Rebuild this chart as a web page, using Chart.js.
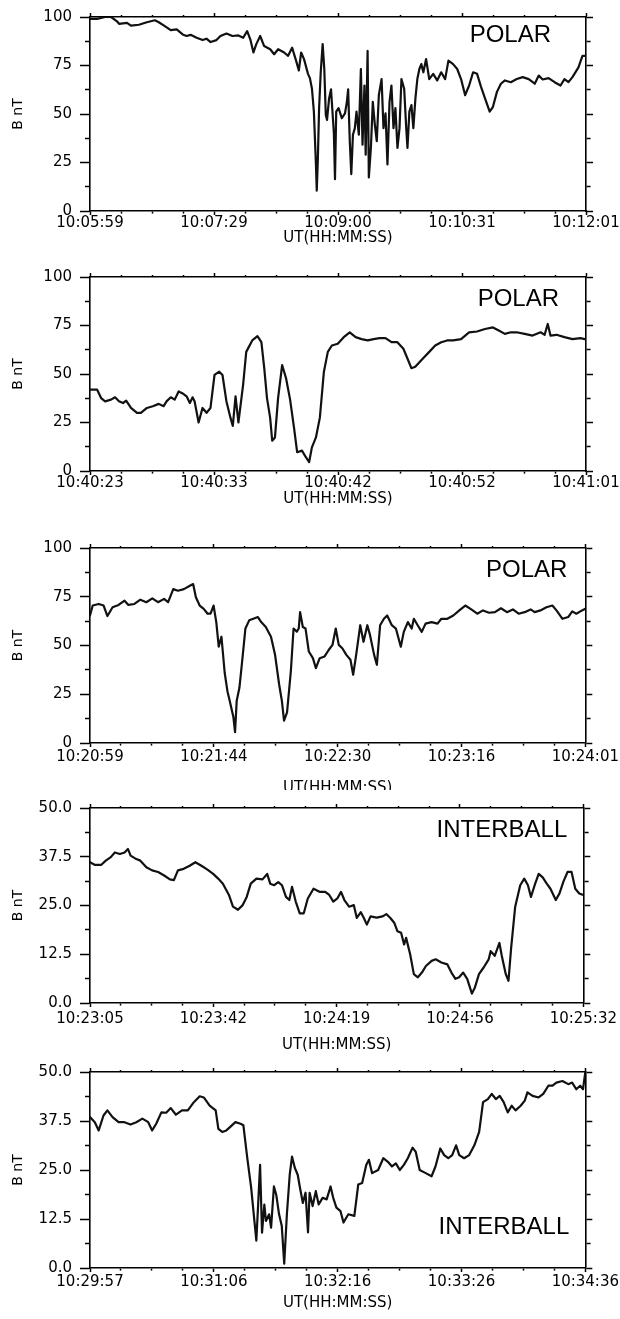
<!DOCTYPE html>
<html>
<head>
<meta charset="utf-8">
<script src="https://cdn.jsdelivr.net/npm/chart.js@4.4.1/dist/chart.umd.min.js"></script>
<style>
  html, body { margin: 0; padding: 0; background: #fff; }
  body { width: 620px; height: 1319px; position: relative; overflow: hidden; }
  .p { position: absolute; left: 0; width: 620px; }
  .p canvas { display: block; }
</style>
</head>
<body>
<div class="p" id="w1" style="top:0px;height:262px"><canvas id="c1"></canvas></div>
<div class="p" id="w2" style="top:260px;height:262px"><canvas id="c2"></canvas></div>
<div class="p" id="w3" style="top:531px;height:259px"><canvas id="c3"></canvas></div>
<div class="p" id="w4" style="top:791px;height:264px"><canvas id="c4"></canvas></div>
<div class="p" id="w5" style="top:1055px;height:264px"><canvas id="c5"></canvas></div>
<script>
// ---------------- DATA (seconds after the first tick, field magnitude in nT) ----------------
const P1_XLABELS = ['10:05:59', '10:07:29', '10:09:00', '10:10:31', '10:12:01'];
const P1_SPAN = 362;
const P1_TIME = [0,5.2,11,15.4,19.7,21.2,27,29.9,35.7,41.5,
  47.3,50.2,54.6,58.9,63.3,67.6,70.5,73.4,77.8,82.2,
  85,88,92.3,95.2,99.6,103.9,108.3,111.8,114.7,117,
  119.3,121.3,124.2,127.1,131.5,134.4,137.3,141.7,144.6,147.5,
  150.4,152.4,154.1,156.2,159.1,160.5,162,163.4,164.9,165.5,
  166.3,167.2,168.4,169.8,171,172.1,173,174.5,175.9,176.8,
  178,178.8,179.7,181.4,183.8,186.1,187.5,188.4,189.6,190.7,
  191.9,193.3,194.5,196.2,197.7,198.9,200.3,201.2,202.6,203.5,
  205,206.4,207.9,209.3,210.8,212.8,214.2,215.7,217.1,218.6,
  220,221.5,222.9,224.4,225.9,227.3,229.3,230.8,231.7,233.1,
  234.6,236,237.5,238.9,240.4,241.8,243.3,245.3,247.6,250.5,
  253.4,256.3,259.2,261.6,265,268,270.8,273.8,276.7,279.6,
  282.5,285.4,288.3,291.7,294.1,297,299.9,302.8,307.1,311.5,
  315.8,320.2,324.6,327.5,330.4,334.7,339.1,343.4,346.3,349.2,
  352.1,356.5,359.4,362];
const P1_B = [99,99,100,100,97.8,96.5,97,95.6,96,97.3,
  98.3,97.3,95.3,93.2,93.6,91,90.2,90.8,89.3,88.1,
  88.8,87.1,88.1,90.2,91.5,90.2,90.5,89.3,92.7,88.5,
  81.7,85.9,90.2,85,83.4,80.8,83.4,81.7,80,84.2,
  77.5,72.4,81.7,78.3,70.7,68.5,63,51.2,24,10.5,
  27,53,71.5,86,73.2,49.5,47,58,62.7,53,
  40,16.4,51.2,53,47.8,50.3,56.3,62.7,36,19,
  39.3,42.7,51.2,39.3,73.2,34.2,64.7,29,82.5,17.3,
  32.5,56.3,44.4,36,59.7,68,42.7,50.3,24,56.3,
  64.7,42.7,53,32.5,42.7,68,63,42.7,32.5,51.2,
  54.6,42.7,58,68,73.2,75.7,71.5,78.3,68,70.7,
  67.3,71.5,68,77.5,75.7,73.2,68,59.7,64.7,71.5,
  70.7,64,58,51.2,53.7,61.4,65.6,67.3,66.4,68,
  69,68,65.6,69.8,67.8,68.5,66.4,64.7,68,66.4,
  69,74,80,80];

const P2_XLABELS = ['10:40:23', '10:40:33', '10:40:42', '10:40:52', '10:41:01'];
const P2_SPAN = 38;
const P2_TIME = [0,0.55,0.85,1.16,1.61,1.92,2.22,2.53,2.77,3.14,
  3.6,3.9,4.36,4.81,5.27,5.64,5.88,6.19,6.49,6.79,
  7.1,7.4,7.65,7.86,8.01,8.32,8.62,8.93,9.23,9.54,
  9.9,10.15,10.45,10.76,10.94,11.15,11.37,11.73,11.97,12.43,
  12.83,13.13,13.35,13.56,13.8,13.96,14.17,14.41,14.72,15.02,
  15.33,15.63,15.87,16.24,16.54,16.79,17,17.31,17.61,17.92,
  18.22,18.53,18.98,19.44,19.9,20.35,20.81,21.27,21.73,22.18,
  22.64,23.1,23.55,24.01,24.32,24.62,24.92,25.38,25.99,26.45,
  26.91,27.36,27.82,28.43,29.04,29.65,30.26,30.87,31.32,31.78,
  32.24,32.69,33.3,33.91,34.52,34.83,35.07,35.28,35.74,36.35,
  36.96,37.57,38];
const P2_B = [41.9,41.9,37.6,35.9,36.8,38,36,35,36.3,32.5,
  30,30,32.5,33.4,34.6,33.4,36,38,36.8,41,
  40,38.5,35,38,36,25,32.5,30,32.5,49.5,
  51.2,49.5,36,27.5,23.2,38.5,25,44.4,61.4,67.3,
  69.5,66.4,53,37.6,27.5,15.6,17.3,37.6,54.6,47.8,
  36.8,22.4,9.7,10.5,7.1,4.6,12.2,17.3,27.5,51.2,
  61.4,64.7,65.6,69,71.5,69,68,67.3,68,68.5,
  68.5,66.4,66.4,63,58,53,53.7,57.1,61.4,64.7,
  66.4,67.3,67.3,68,71.5,71.9,73.2,74,72.4,70.7,
  71.5,71.5,70.7,69.8,71.5,70.2,75.8,69.8,70.2,69,
  68,68.5,67.8];

const P3_XLABELS = ['10:20:59', '10:21:44', '10:22:30', '10:23:16', '10:24:01'];
const P3_SPAN = 182;
const P3_TIME = [0,1,3.2,5,6.4,8.3,10.5,12.7,14.1,16.3,
  18.5,20.7,22.9,25,27.2,28.7,30.6,32.3,34.5,36.7,
  37.9,38.9,40.3,41.8,43.2,44.3,45.4,46.4,47.3,48.3,
  49.5,50.5,51.5,52.7,53.3,53.9,54.9,55.9,57.1,58.5,
  60,61.7,62.9,64.6,66.5,68,69.5,70.5,71.3,72.4,
  73.8,74.8,76,76.7,77.2,78.2,79.2,80.4,81.9,83,
  84.4,86.2,87.7,89.1,90.3,91.4,92.7,94.2,95.7,96.7,
  97.8,99.3,100.5,101.9,102.9,104.4,105.4,106.6,108,109.2,
  110.9,112.4,114.2,115.3,116.8,118.2,119,120.4,121.9,123.3,
  125.5,127.7,129.1,131.3,133.5,135.7,137.9,140.1,142.3,144.4,
  146.6,148.8,151,153.2,155.4,157.5,159.7,161.9,163.4,165.5,
  167.7,169.9,171.4,173.6,175.7,177.2,178.7,180.8,182];
const P3_B = [65.4,70.5,71.3,70.5,65.1,69.6,70.8,73,70.8,71.3,
  73.5,72.2,74.2,72.2,73.9,72.2,78.9,78.1,78.9,80.6,
  81.5,74.7,70.5,68.8,66.3,66.3,70.5,62,49.4,54.5,
  35.9,26.6,20.7,13.2,5.6,21.6,28.3,41.8,58.7,62.9,
  63.7,64.6,62,59.5,54.5,45.2,30,21.6,11.5,15.7,
  36.8,58.7,57.1,58.7,67.1,59.5,58.7,46.9,43.5,38.4,
  43.5,44.4,47.7,50.3,58.7,50.3,48.6,45.2,42.7,35,
  45.2,60.4,51.9,60.4,55.3,45.2,40.1,60.4,63.7,65.4,
  60.4,58.7,49.4,57,62,58.7,63.7,60.4,57,61.2,
  62,61.2,63.7,63.7,65.4,68,70.5,68.5,66.3,68,
  66.8,67.1,69.1,67.1,68.5,66.3,67.1,68.5,67.1,68,
  69.6,70.5,68,63.7,64.6,67.5,66.3,68,68.8];

const P4_XLABELS = ['10:23:05', '10:23:42', '10:24:19', '10:24:56', '10:25:32'];
const P4_SPAN = 147;
const P4_TIME = [0,1.5,3.3,4.7,6.2,7.4,8.9,10.3,11.3,12.1,
  13.8,15,16.8,18.5,20.3,22.1,23.8,25,26.2,27.9,
  29.7,31.4,33.2,35,36.7,38.2,39.6,41.4,42.6,44.1,
  45.5,46.7,47.9,49.6,51.4,52.8,53.7,54.9,56.1,57.2,
  58.4,59.4,60.2,61.3,62.5,63.7,64.9,66.6,68.4,70.1,
  71.3,72.5,73.7,74.8,75.8,77.2,78.6,79.5,80.7,81.6,
  82.5,83.6,85.4,87.2,88.3,89.5,90.7,91.6,92.7,93.6,
  94.2,95.4,96.5,97.7,98.9,100.1,101.8,103,104.7,106.5,
  107.7,108.9,110,111.2,112.4,113.8,114.7,115.9,117.3,118.8,
  119.4,120.6,122,122.7,123.9,124.7,125.5,126.7,128.2,129.4,
  130.5,131.4,132.5,133.7,134.9,136.1,137.2,138.8,139.9,141.1,
  142.3,143.5,144.6,145.8,147];
const P4_B = [36.1,35.4,35.4,36.5,37.4,38.6,38.2,38.6,39.5,37.8,
  36.9,36.5,34.8,34,33.6,32.7,31.7,31.5,34,34.4,
  35.2,36.1,35.2,34.2,33.1,31.9,30.6,27.7,24.7,23.9,
  25.1,27.2,30.6,31.9,31.7,33.1,30.6,30.2,31,30.2,
  27.2,26.4,29.8,26,23,23,26.8,29.3,28.5,28.5,
  27.7,26,26.8,28.5,26.4,24.7,25.1,21.8,23.3,21.8,
  20.1,22.2,21.9,22.2,22.8,21.8,20.5,18.4,18,15,
  16.7,12.5,7.4,6.6,7.8,9.5,10.8,11.2,10.4,9.9,
  7.8,6.2,6.6,7.8,6.2,2.4,4,7.4,9.1,11.2,
  13.3,12.1,15.4,12.1,7.4,5.7,14.2,24.7,30.2,31.9,
  30.2,27.2,30.2,33.1,32.2,30.6,29.3,26.4,28.1,31.2,
  33.6,33.6,29.3,28.1,27.7];

const P5_XLABELS = ['10:29:57', '10:31:06', '10:32:16', '10:33:26', '10:34:36'];
const P5_SPAN = 279;
const P5_TIME = [0,2.7,4.9,7.6,9.8,12.7,16.1,19.4,22.8,26.1,
  29.5,32.8,35,37.3,40.2,42.9,45.5,48.4,51.8,55.1,
  58.5,61.8,64.1,67.4,70.8,72.3,74.5,76.8,79,81.9,
  84.8,86.4,88.6,90.8,92.6,93.7,94.9,95.8,96.9,98.2,
  99.1,100.9,102,103.6,104.9,106.5,108,109.4,110.9,112.5,
  113.8,115.4,117,118.3,119.9,121.4,122.8,123.7,125.4,127.2,
  128.8,131,133.3,135.5,137,138.8,141.1,142.8,145.5,148.9,
  151.1,153.3,155.6,157.1,158.9,162.3,165.2,167.8,170.1,172.3,
  174.5,176.8,179,181.7,183.5,185.7,189.1,192.4,194.6,197.3,
  199.5,201.8,204,206.2,208,210.7,213.6,216.5,219.2,221.4,
  224.1,226.3,228.6,230.8,233,235.3,237.5,239.7,242.6,244.9,
  246.4,249.3,252.7,255.3,258.2,260.5,262.7,266.1,269.4,271.6,
  273.9,276.1,277.7,279];
const P5_B = [38.5,37.2,35.1,38.9,40.2,38.5,37.2,37.2,36.6,37.2,
  38.1,37.2,35.1,36.8,39.7,39.6,40.8,39.1,40.2,40.2,
  42.3,43.8,43.5,41.4,40.2,35.5,34.7,35.1,36,37.2,
  36.8,36.4,28,20.4,12,7,17.9,26.3,9,16.2,
  12,13.7,10.3,20.8,18.7,13.7,10.8,1.1,13.7,23.8,
  28.4,25.5,23.8,20.4,16.6,19.2,9.1,19.2,15.8,19.6,
  16.2,17.9,17.5,20.8,17.9,15.4,14.5,11.6,13.7,13.3,
  21.3,21.7,26.3,27.6,24.2,25,28,27.1,25.9,26.7,
  25,26.3,28,30.7,29.6,25,24.2,23.4,25.9,30.5,
  28.8,28,28.8,31.3,28.8,28,28.8,31.3,34.7,42.3,
  43.1,44.4,43.1,43.9,42.3,39.7,41.4,40.2,41.4,42.7,
  44.8,43.9,43.5,44.4,46.5,46.5,47.3,47.7,46.9,47.3,
  45.6,46.5,45.6,50];

const Y_LABELS_100 = ['0', '25', '50', '75', '100'];
const Y_LABELS_50 = ['0.0', '12.5', '25.0', '37.5', '50.0'];
const Y_TITLE = 'B nT';
const X_TITLE = 'UT(HH:MM:SS)';

// ---------------- RENDERING ----------------
const TICK_FONT = { family: '"DejaVu Sans", sans-serif', size: 15 };
const TITLE_FONT = { family: '"DejaVu Sans", sans-serif', size: 15 };
const YTITLE_FONT = { family: '"DejaVu Sans", sans-serif', size: 14 };

const tagPlugin = {
  id: 'tag',
  afterDraw(chart, args, o) {
    const { ctx, chartArea: a } = chart;
    ctx.save();
    ctx.font = '24px "Liberation Sans", Arial, sans-serif';
    ctx.fillStyle = '#000';
    ctx.textAlign = 'right';
    ctx.textBaseline = 'middle';
    const y = o.fromBottom ? a.bottom - o.dy : a.top + o.dy;
    ctx.fillText(o.text, a.right - o.dx, y);
    ctx.restore();
  }
};

function makePanel(canvasId, p) {
  const xTicks = (s) => { s.ticks = []; for (let i = 0; i <= 16; i++) s.ticks.push({ value: p.span * i / 16 }); };
  const yTicks = (s) => { s.ticks = []; for (let i = 0; i <= 8; i++) s.ticks.push({ value: p.yMax * i / 8 }); };
  const pts = p.time.map((t, i) => ({ x: t, y: p.b[i] }));
  const BLACK = '#000';
  return new Chart(document.getElementById(canvasId), {
    type: 'line',
    data: { datasets: [{ data: pts, borderColor: '#111', borderWidth: 2.2, borderJoinStyle: 'round',
      borderCapStyle: 'round', pointRadius: 0, fill: false, tension: 0 }] },
    plugins: [tagPlugin],
    options: {
      responsive: true, maintainAspectRatio: false, animation: false, events: [],
      layout: { padding: 0 },
      plugins: {
        legend: { display: false }, tooltip: { enabled: false },
        tag: { text: p.tag, dx: p.tagDx, dy: p.tagDy, fromBottom: !!p.tagFromBottom }
      },
      scales: {
        x: {
          type: 'linear', position: 'bottom', min: 0, max: p.span,
          afterBuildTicks: xTicks,
          afterFit: (s) => { s.height = p.bottomH; },
          grid: { drawOnChartArea: false, tickLength: 4, tickColor: BLACK, tickWidth: 1.5,
            tickBorderDash: (c) => (c.index % 4 ? [2, 10] : []) },
          border: { color: BLACK, width: 1.6 },
          ticks: { autoSkip: false, maxRotation: 0, minRotation: 0, padding: p.xPad, color: BLACK, font: TICK_FONT,
            callback: (v, i) => (i % 4 === 0 ? p.xLabels[i / 4] : '') },
          title: { display: true, text: X_TITLE, color: BLACK, font: TITLE_FONT, padding: { top: 0, bottom: p.titlePad } }
        },
        xt: {
          type: 'linear', position: 'top', min: 0, max: p.span,
          afterBuildTicks: xTicks,
          afterFit: (s) => { s.height = 14; },
          grid: { drawOnChartArea: false, tickLength: 4, tickColor: BLACK, tickWidth: 1.5,
            tickBorderDash: (c) => (c.index % 4 ? [2, 2] : []),
            tickBorderDashOffset: (c) => (c.index % 4 ? 2 : 0) },
          border: { color: BLACK, width: 1.6 },
          ticks: { display: false }
        },
        y: {
          type: 'linear', position: 'left', min: 0, max: p.yMax,
          afterBuildTicks: yTicks,
          afterFit: (s) => { s.width = 90; },
          grid: { drawOnChartArea: false, tickLength: 10, tickColor: BLACK, tickWidth: 1.5,
            tickBorderDash: (c) => (c.index % 2 ? [5, 5] : []),
            tickBorderDashOffset: (c) => (c.index % 2 ? 5 : 0) },
          border: { color: BLACK, width: 1.6 },
          ticks: { padding: 8, color: BLACK, font: TICK_FONT,
            callback: (v, i) => (i % 2 === 0 ? p.yLabels[i / 2] : '') },
          title: { display: true, text: Y_TITLE, color: BLACK, font: YTITLE_FONT, padding: { top: 10, bottom: 0 } }
        },
        yr: {
          type: 'linear', position: 'right', min: 0, max: p.yMax,
          afterBuildTicks: yTicks,
          afterFit: (s) => { s.width = 34; },
          grid: { drawOnChartArea: false, tickLength: 7, tickColor: BLACK, tickWidth: 1.5,
            tickBorderDash: (c) => (c.index % 2 ? [4, 10] : []) },
          border: { color: BLACK, width: 1.6 },
          ticks: { display: false }
        }
      }
    }
  });
}

makePanel('c1', { time: P1_TIME, b: P1_B, span: P1_SPAN, xLabels: P1_XLABELS, yMax: 100, yLabels: Y_LABELS_100,
  bottomH: 51, xPad: -1, titlePad: 15, tag: 'POLAR', tagDx: 35, tagDy: 18 });
makePanel('c2', { time: P2_TIME, b: P2_B, span: P2_SPAN, xLabels: P2_XLABELS, yMax: 100, yLabels: Y_LABELS_100,
  bottomH: 51, xPad: -1, titlePad: 14, tag: 'POLAR', tagDx: 27, tagDy: 22 });
makePanel('c3', { time: P3_TIME, b: P3_B, span: P3_SPAN, xLabels: P3_XLABELS, yMax: 100, yLabels: Y_LABELS_100,
  bottomH: 47, xPad: 1, titlePad: -7, tag: 'POLAR', tagDx: 18, tagDy: 22 });
makePanel('c4', { time: P4_TIME, b: P4_B, span: P4_SPAN, xLabels: P4_XLABELS, yMax: 50, yLabels: Y_LABELS_50,
  bottomH: 52, xPad: 3, titlePad: 1, tag: 'INTERBALL', tagDx: 16, tagDy: 22 });
makePanel('c5', { time: P5_TIME, b: P5_B, span: P5_SPAN, xLabels: P5_XLABELS, yMax: 50, yLabels: Y_LABELS_50,
  bottomH: 51, xPad: 1, titlePad: 7, tag: 'INTERBALL', tagDx: 16, tagDy: 41, tagFromBottom: true });
</script>
</body>
</html>
